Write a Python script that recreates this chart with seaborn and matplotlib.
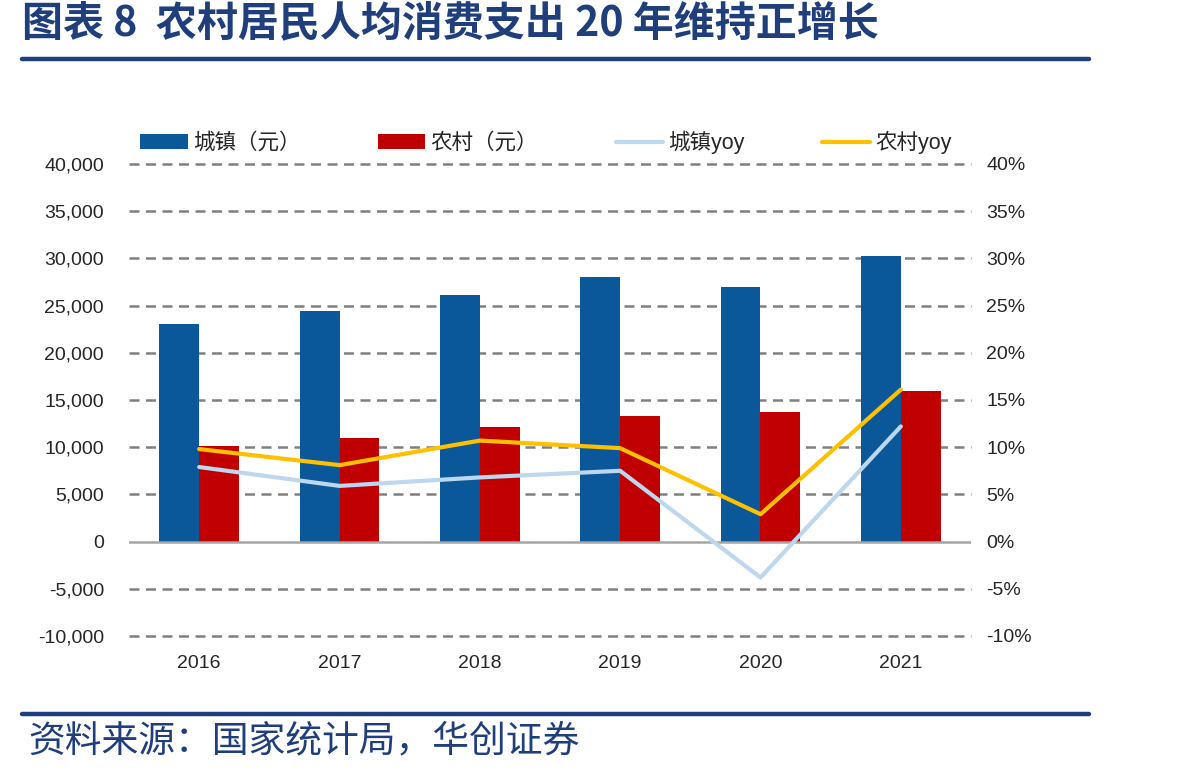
import numpy as np
import pandas as pd
import matplotlib
matplotlib.use("Agg")
import matplotlib.pyplot as plt
from matplotlib.lines import Line2D
from matplotlib.patches import Patch
import seaborn as sns

# Data
years = ['2016', '2017', '2018', '2019', '2020', '2021']
urban_spend = [23079, 24445, 26112, 28063, 27007, 30307]   # 城镇（元）
rural_spend = [10130, 10955, 12124, 13328, 13713, 15916]   # 农村（元）
urban_yoy = [7.9, 5.9, 6.8, 7.5, -3.8, 12.2]               # 城镇yoy (%)
rural_yoy = [9.8, 8.1, 10.7, 9.9, 2.9, 16.1]               # 农村yoy (%)

left_ticks = list(range(-10000, 40001, 5000))
right_ticks = list(range(-10, 41, 5))

title = '图表 8  农村居民人均消费支出 20 年维持正增长'
source = '资料来源：国家统计局，华创证券'

c_urban = '#0A5899'
c_rural = '#C00000'
c_urban_yoy = '#BDD7EE'
c_rural_yoy = '#FFC000'
navy = '#1F3E7C'

sns.set_style("white")
plt.rcParams['font.family'] = ['Liberation Sans', 'Noto Sans CJK SC', 'DejaVu Sans']

df_bar = pd.DataFrame({
    'year': years * 2,
    'value': urban_spend + rural_spend,
    'kind': ['城镇（元）'] * len(years) + ['农村（元）'] * len(years),
})

fig = plt.figure(figsize=(11.98, 7.74), dpi=100)
ax = fig.add_axes([129 / 1198, 1 - 636 / 774, (971 - 129) / 1198, (636 - 164) / 774])

sns.barplot(data=df_bar, x='year', y='value', hue='kind',
            palette=[c_urban, c_rural], width=0.57, ax=ax,
            saturation=1, legend=False, linewidth=0)

ax.set_ylim(-10000, 40000)
ax.set_yticks(left_ticks)
ax.set_yticklabels(['{:,}'.format(v) for v in left_ticks])
ax.set_xlim(-0.5, len(years) - 0.5)
ax.set_xlabel('')
ax.set_ylabel('')

# dashed grid lines, solid zero line
for v in left_ticks:
    if v == 0:
        ax.axhline(0, color='#A6A6A6', lw=1.8, zorder=1)
    else:
        ax.axhline(v, color='#808080', lw=1.8, ls=(0, (4, 2.6)),
                   zorder=0, clip_on=False)

for s in ax.spines.values():
    s.set_visible(False)
ax.tick_params(axis='y', length=0, labelsize=14, pad=18, labelcolor='#262626')
ax.tick_params(axis='x', length=0, labelsize=14, pad=14, labelcolor='#262626')

ax2 = ax.twinx()
x_pos = np.arange(len(years))
sns.lineplot(x=x_pos, y=urban_yoy, color=c_urban_yoy, lw=3, ax=ax2)
sns.lineplot(x=x_pos, y=rural_yoy, color=c_rural_yoy, lw=3, ax=ax2)
ax2.set_ylim(-10, 40)
ax2.set_yticks(right_ticks)
ax2.set_yticklabels(['{}%'.format(v) for v in right_ticks])
ax2.set_xlim(-0.5, len(years) - 0.5)
for s in ax2.spines.values():
    s.set_visible(False)
ax2.tick_params(axis='y', length=0, labelsize=14, pad=11, labelcolor='#262626')

handles = [
    Patch(facecolor=c_urban, edgecolor='none'),
    Patch(facecolor=c_rural, edgecolor='none'),
    Line2D([], [], color=c_urban_yoy, lw=3),
    Line2D([], [], color=c_rural_yoy, lw=3),
]
labels = ['城镇（元）', '农村（元）', '城镇yoy', '农村yoy']
ax2.legend(handles, labels, loc='lower center', bbox_to_anchor=(0.495, 0.98),
           ncol=4, frameon=False, fontsize=15.5, handlelength=2.2,
           handleheight=0.65, handletextpad=0.25, columnspacing=3.6,
           labelcolor='#262626')

# title, rules and source
fig.text(22 / 1198, 1 - 23 / 774, title, fontsize=29.5, fontweight='bold',
         color=navy, va='center', ha='left', family=['Noto Sans CJK SC'])
fig.add_artist(Line2D([22 / 1198, 1089 / 1198], [1 - 59 / 774] * 2,
                      color=navy, lw=3.2))
fig.add_artist(Line2D([22 / 1198, 1089 / 1198], [1 - 714 / 774] * 2,
                      color=navy, lw=3.2))
fig.text(28 / 1198, 1 - 741 / 774, source, fontsize=26.5, color=navy,
         va='center', ha='left', family=['Noto Sans CJK SC'])

fig.savefig('out.png', dpi=100)
